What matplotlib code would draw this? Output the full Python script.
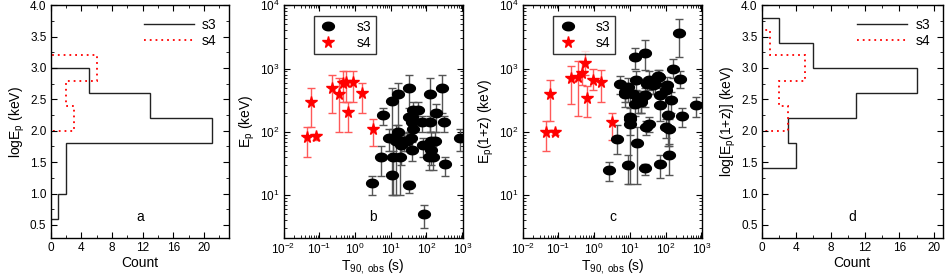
import matplotlib
matplotlib.use("Agg")
import matplotlib.pyplot as plt
from matplotlib.lines import Line2D
from matplotlib.path import Path
import numpy as np

plt.rcParams['font.family'] = ['Liberation Sans', 'DejaVu Sans']
plt.rcParams['mathtext.fontset'] = 'custom'
plt.rcParams['mathtext.rm'] = 'Liberation Sans'
plt.rcParams['mathtext.it'] = 'Liberation Sans'

# panel a histograms (log Ep)
a_s3_edges = [0.6, 1.0, 1.4, 1.8, 2.2, 2.6, 3.0]
a_s3_counts = [1, 2, 2, 21, 13, 5]
a_s4_edges = [1.2, 1.6, 2.0, 2.4, 2.8, 3.2]
a_s4_counts = [0, 0, 3, 2, 6]

# panel d histograms (log Ep(1+z))
d_s3_edges = [1.4, 1.8, 2.2, 2.6, 3.0, 3.4, 3.8]
d_s3_counts = [4, 3, 11, 18, 6, 2]
d_s4_edges = [1.4, 2.0, 2.4, 2.8, 3.2, 3.6]
d_s4_counts = [0, 3, 2, 5, 1]

# s4 (stars), same T90 in b and c
t90_s4 = [0.046, 0.057, 0.08, 0.22, 0.35, 0.47, 0.55, 0.62, 0.90, 1.55, 3.2]
ep_s4 = [82, 300, 85, 500, 400, 600, 620, 205, 615, 410, 112]
ep_s4_lo = [40, 120, 75, 200, 100, 300, 300, 100, 300, 200, 60]
ep_s4_hi = [120, 500, 92, 800, 700, 900, 900, 300, 900, 600, 160]
epz_s4 = [100, 390, 98, 710, 740, 865, 1245, 343, 670, 620, 143]
epz_s4_lo = [50, 150, 88, 280, 180, 550, 800, 170, 450, 300, 75]
epz_s4_hi = [150, 650, 108, 1100, 1300, 1300, 1900, 530, 1000, 950, 200]

# s3 (circles), panel b
t90_b = [2.9, 6.1, 10.5, 16, 33, 124, 273, 190, 311, 124, 73, 58, 42, 33, 40,
         40, 42, 5.5, 9.0, 11.7, 13.9, 16, 18.8, 18.8, 23.7, 28.7, 38, 11.7, 18,
         10.5, 32, 40, 80, 138, 170, 138, 118, 152, 340, 850, 86]
ep_b = [15.6, 183, 308, 403, 500, 403, 500, 202, 142, 142, 142, 225, 225, 172, 172,
        142, 110, 40, 81, 81, 72, 100, 72, 61, 72, 72, 81, 40, 40,
        20.6, 14.4, 51, 61, 72, 72, 51, 40, 40, 31, 81, 5.1]
ep_b_lo = [10, 130, 80, 100, 100, 100, 200, 100, 100, 100, 100, 140, 140, 100, 130,
           100, 80, 20, 50, 50, 10, 70, 40, 30, 50, 50, 50, 10, 10,
           10, 11, 35, 40, 40, 40, 30, 25, 25, 20, 50, 3]
ep_b_hi = [20, 240, 490, 600, 800, 700, 800, 280, 180, 180, 180, 300, 300, 240, 220,
           180, 140, 60, 110, 110, 130, 130, 100, 90, 95, 95, 110, 70, 70,
           40, 17, 70, 80, 100, 100, 70, 60, 60, 40, 110, 7]

# s3 (circles), panel c
t90_c = [2.6, 4.4, 5.2, 7.2, 8.6, 8.9, 10.4, 10, 12.3, 13.7, 13.7, 15.3, 15.9, 17,
         21, 26, 26, 26, 29, 34, 34, 44, 50, 62, 69, 72, 69, 105, 105, 112, 117,
         124, 124, 145, 158, 237, 257, 282, 725, 7.2, 21, 10.2, 31, 65]
epz_c = [25, 78, 580, 403, 513, 30, 162, 135, 403, 280, 1525, 653, 67, 316,
         297, 27, 379, 1790, 120, 135, 653, 545, 580, 755, 379, 31, 263, 120, 454, 545, 183,
         110, 43, 316, 1000, 3650, 678, 178, 263, 427, 316, 172, 560, 738]
epz_c_lo = [17, 45, 400, 250, 300, 15, 15, 90, 250, 180, 1000, 450, 15, 200,
            200, 21, 250, 950, 90, 100, 450, 400, 400, 550, 250, 19, 150, 80, 300, 350, 60,
            60, 21, 200, 700, 1500, 500, 120, 170, 300, 200, 120, 400, 550]
epz_c_hi = [33, 130, 760, 560, 720, 43, 430, 180, 560, 380, 2100, 900, 120, 440,
            400, 31, 500, 2800, 150, 170, 900, 700, 760, 950, 500, 43, 380, 160, 600, 740, 300,
            160, 65, 430, 1400, 6000, 900, 240, 360, 560, 440, 240, 720, 950]

fig = plt.figure(figsize=(9.47, 2.74), dpi=100)
bot, hgt = 0.131, 0.850
ax_a = fig.add_axes([0.0535, bot, 0.1886, hgt])
ax_b = fig.add_axes([0.2994, bot, 0.1895, hgt])
ax_c = fig.add_axes([0.5520, bot, 0.1893, hgt])
ax_d = fig.add_axes([0.8043, bot, 0.1910, hgt])

tick_fs = 8.5
lab_fs = 10

# slightly flattened dot, as in the original
t = np.linspace(0, 2 * np.pi, 40)
ellipse = Path(np.column_stack([np.cos(t), 0.72 * np.sin(t)]), closed=True)


def style(ax):
    ax.tick_params(which='both', direction='in', top=True, right=True, labelsize=tick_fs)
    ax.tick_params(which='major', length=4, pad=3)
    ax.tick_params(which='minor', length=2)
    for s in ax.spines.values():
        s.set_linewidth(1.0)


def hist_panel(ax, e3, c3, e4, c4, xlim, xticks, ylabel, letter):
    ax.stairs(c3, e3, orientation='horizontal', baseline=0, color='#222222', lw=1.0)
    ax.stairs(c4, e4, orientation='horizontal', baseline=0, color='red', lw=1.3,
              linestyle=(0, (1, 2.2)))
    ax.set_xlim(*xlim)
    ax.set_ylim(0.29, 4.0)
    ax.set_xticks(xticks)
    ax.set_yticks(np.arange(0.5, 4.01, 0.5))
    ax.set_yticks(np.arange(0.5, 4.01, 0.25), minor=True)
    ax.set_xticks(np.arange(0, xlim[1], 2), minor=True)
    ax.yaxis.set_major_formatter(plt.FormatStrFormatter('%.1f'))
    ax.set_xlabel('Count', fontsize=lab_fs)
    ax.xaxis.set_label_coords(0.5, -0.075)
    ax.set_ylabel(ylabel, fontsize=lab_fs, labelpad=2)
    handles = [Line2D([], [], color='#222222', lw=1.0),
               Line2D([], [], color='red', lw=1.3, linestyle=(0, (1, 2.2)))]
    ax.legend(handles, ['s3', 's4'], loc='upper right', frameon=False, fontsize=10,
              handlelength=3.6, borderaxespad=0.5, labelspacing=0.15, handletextpad=0.6)
    ax.text(0.5, 0.075, letter, transform=ax.transAxes, ha='center', fontsize=10)
    style(ax)


def scatter_panel(ax, tx, ty, tlo, thi, sx, sy, slo, shi, ylabel, letter):
    ty, tlo, thi = np.array(ty), np.array(tlo), np.array(thi)
    sy, slo, shi = np.array(sy), np.array(slo), np.array(shi)
    ax.errorbar(tx, ty, yerr=[ty - tlo, thi - ty], fmt='none', ecolor='#555555',
                elinewidth=1.0, capsize=3, capthick=1.0)
    ax.errorbar(sx, sy, yerr=[sy - slo, shi - sy], fmt='none', ecolor=(1, 0.35, 0.35),
                elinewidth=1.0, capsize=3, capthick=1.0)
    ax.plot(tx, ty, linestyle='none', marker=ellipse, color='black', ms=8.5, label='s3')
    ax.plot(sx, sy, linestyle='none', marker='*', color='red', ms=8.5, label='s4')
    ax.set_xscale('log')
    ax.set_yscale('log')
    ax.set_xlim(1e-2, 1.05e3)
    ax.set_ylim(2.1, 1e4)
    ax.set_xlabel(r'T$_{\mathregular{90,\ obs}}$ (s)', fontsize=lab_fs)
    ax.xaxis.set_label_coords(0.5, -0.08)
    ax.set_ylabel(ylabel, fontsize=lab_fs, labelpad=2)
    leg = ax.legend(loc='upper left', bbox_to_anchor=(0.13, 0.985), fontsize=10,
                    fancybox=False, edgecolor='black', handletextpad=1.3,
                    borderpad=0.3, labelspacing=0.15, handlelength=1.5)
    leg.get_frame().set_linewidth(1.0)
    ax.text(0.5, 0.075, letter, transform=ax.transAxes, ha='center', fontsize=10)
    style(ax)


hist_panel(ax_a, a_s3_edges, a_s3_counts, a_s4_edges, a_s4_counts, (0, 23.3),
           [0, 4, 8, 12, 16, 20], r'logE$_p$ (keV)', 'a')
scatter_panel(ax_b, t90_b, ep_b, ep_b_lo, ep_b_hi, t90_s4, ep_s4, ep_s4_lo, ep_s4_hi,
              r'E$_p$ (keV)', 'b')
scatter_panel(ax_c, t90_c, epz_c, epz_c_lo, epz_c_hi, t90_s4, epz_s4, epz_s4_lo, epz_s4_hi,
              r'E$_p$(1+z) (keV)', 'c')
hist_panel(ax_d, d_s3_edges, d_s3_counts, d_s4_edges, d_s4_counts, (0, 21),
           [0, 4, 8, 12, 16, 20], r'log[E$_p$(1+z)] (keV)', 'd')

fig.savefig('out.png', dpi=100)
